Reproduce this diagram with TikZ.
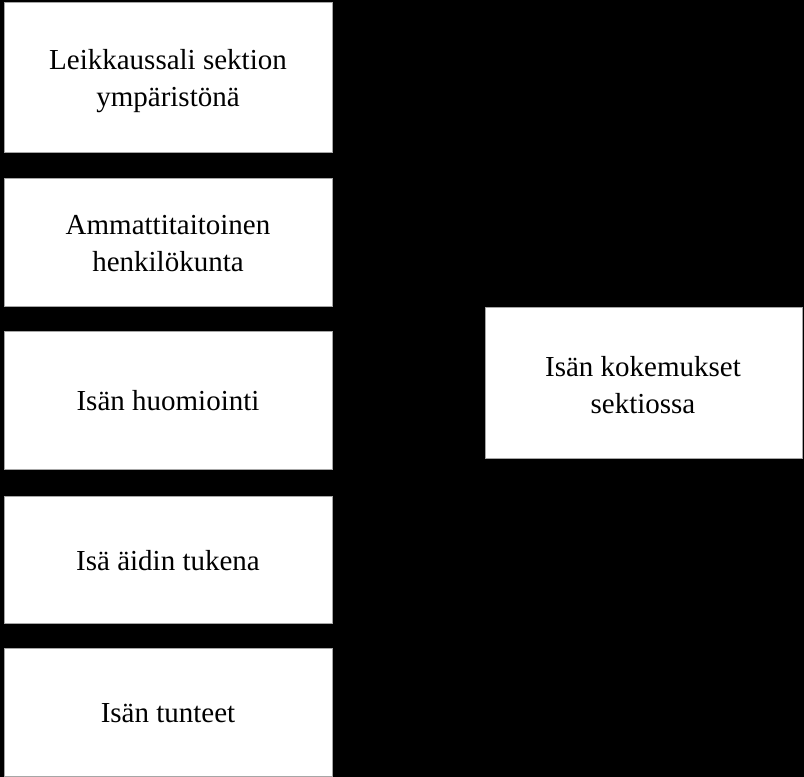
\documentclass[tikz,border=0pt]{standalone}
\usepackage{fontspec}
\setmainfont{Liberation Serif}
\begin{document}
\begin{tikzpicture}[x=1pt,y=-1pt,
  box/.style={draw=gray!70, line width=0.8pt, fill=white},
  lbl/.style={align=center, font=\fontsize{29}{37}\selectfont, text=black}]
\fill[black] (0,0) rectangle (804,777);
\useasboundingbox (0,0) rectangle (804,777);
\draw[box] (4,2) rectangle (332,152);
\node[lbl] (a) at (168,81) {Leikkaussali sektion\\ympäristönä};
\draw[box] (4,178) rectangle (332,306);
\node[lbl] (b) at (168,244) {Ammattitaitoinen\\henkilökunta};
\draw[box] (4,331) rectangle (332,469);
\node[lbl] (c) at (168,401) {Isän huomiointi};
\draw[box] (4,496) rectangle (332,623);
\node[lbl] (d) at (168,561) {Isä äidin tukena};
\draw[box] (4,648) rectangle (332,776);
\node[lbl] (e) at (168,713) {Isän tunteet};
\draw[box] (485,307) rectangle (802,458);
\node[lbl] (f) at (643,385) {Isän kokemukset\\sektiossa};
\end{tikzpicture}
\end{document}
